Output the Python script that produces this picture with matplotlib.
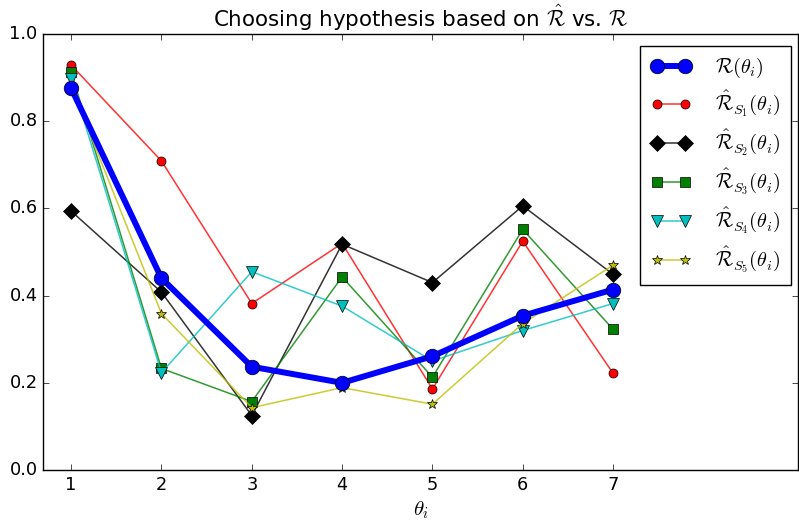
import numpy as np
import matplotlib
matplotlib.use('Agg')
import matplotlib.pyplot as plt
from matplotlib.colors import to_rgba

plt.style.use('classic')

theta = [1, 2, 3, 4, 5, 6, 7]
risk_true = [0.876, 0.440, 0.237, 0.200, 0.261, 0.354, 0.414]
risk_s1 = [0.929, 0.709, 0.382, 0.520, 0.186, 0.525, 0.222]
risk_s2 = [0.594, 0.408, 0.125, 0.518, 0.430, 0.606, 0.449]
risk_s3 = [0.913, 0.233, 0.157, 0.443, 0.213, 0.552, 0.323]
risk_s4 = [0.897, 0.223, 0.455, 0.376, 0.250, 0.320, 0.382]
risk_s5 = [0.881, 0.359, 0.143, 0.189, 0.151, 0.336, 0.470]

labels = [r'$\mathcal{R}(\theta_i)$'] + \
    [r'$\hat{\mathcal{R}}_{S_%d}(\theta_i)$' % k for k in range(1, 6)]

fig = plt.figure(figsize=(7.99, 5.22), dpi=100)
ax = fig.add_axes([0.054, 0.0996, 0.945, 0.835])

ax.plot(theta, risk_true, color='b', marker='o', markersize=10.5, linewidth=4.3,
        label=labels[0], zorder=5)

# thin sample-risk curves: slightly transparent lines, solid markers
styles = [
    (risk_s1, 'r', 'o', 6.5),
    (risk_s2, 'k', 'D', 8.5),
    (risk_s3, 'g', 's', 7.5),
    (risk_s4, 'c', 'v', 8.5),
    (risk_s5, 'y', '*', 7.5),
]
for (vals, c, m, ms), lab in zip(styles, labels[1:]):
    ax.plot(theta, vals, color=to_rgba(c, 0.8), marker=m, markersize=ms,
            markerfacecolor=c, markeredgecolor='k', linewidth=1.1, label=lab)

ax.set_xlim(0.69, 9.05)
ax.set_ylim(0.0, 1.0)
ax.set_xticks(theta)
ax.set_yticks([0.0, 0.2, 0.4, 0.6, 0.8, 1.0])
ax.tick_params(labelsize=12.8)
ax.set_xlabel(r'$\theta_i$', fontsize=15, labelpad=4)
ax.set_title(r'Choosing hypothesis based on $\hat{\mathcal{R}}$ vs. $\mathcal{R}$',
             fontsize=15.4)
ax.legend(loc='upper right', fontsize=14.6, numpoints=2, labelspacing=0.42,
          handletextpad=1.2, borderpad=0.5,
          bbox_to_anchor=(791 / 799, 1 - 46 / 522), bbox_transform=fig.transFigure,
          borderaxespad=0)

fig.savefig('out.png', dpi=100)
